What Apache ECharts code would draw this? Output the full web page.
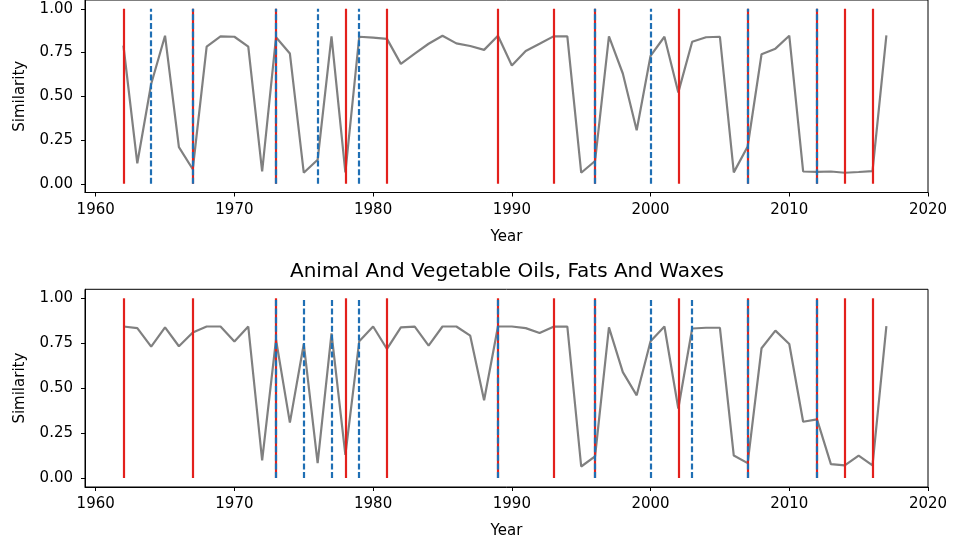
<!DOCTYPE html>
<html>
<head>
<meta charset="utf-8">
<script src="https://cdn.jsdelivr.net/npm/echarts@6/dist/echarts.min.js"></script>
<style>html,body{margin:0;padding:0;background:#fff}#c{width:960px;height:540px}</style>
</head>
<body>
<div id="c"></div>
<script>
const years = [1962,1963,1964,1965,1966,1967,1968,1969,1970,1971,1972,1973,1974,1975,1976,1977,1978,1979,1980,1981,1982,1983,1984,1985,1986,1987,1988,1989,1990,1991,1992,1993,1994,1995,1996,1997,1998,1999,2000,2001,2002,2003,2004,2005,2006,2007,2008,2009,2010,2011,2012,2013,2014,2015,2016,2017];

const topValues = [0.79,0.117,0.57,0.846,0.209,0.083,0.783,0.842,0.84,0.783,0.07,0.837,0.744,0.063,0.137,0.842,0.065,0.84,0.835,0.828,0.685,0.744,0.80,0.846,0.802,0.787,0.765,0.846,0.676,0.759,0.80,0.842,0.842,0.063,0.13,0.842,0.63,0.306,0.731,0.84,0.522,0.811,0.837,0.84,0.065,0.213,0.74,0.772,0.846,0.07,0.068,0.07,0.063,0.067,0.072,0.848];

const bottomValues = [0.843,0.834,0.731,0.838,0.733,0.81,0.843,0.843,0.759,0.843,0.098,0.77,0.308,0.746,0.083,0.805,0.129,0.761,0.843,0.718,0.838,0.842,0.737,0.843,0.843,0.792,0.433,0.843,0.843,0.834,0.807,0.842,0.843,0.064,0.12,0.838,0.589,0.46,0.761,0.843,0.387,0.832,0.836,0.836,0.125,0.083,0.722,0.82,0.746,0.313,0.326,0.077,0.07,0.125,0.07,0.845];

const trueChangeYears = [1962,1967,1973,1978,1981,1989,1993,1996,2002,2007,2012,2014,2016];
const topDetectedYears = [1964,1967,1973,1976,1979,1996,2000,2007,2012];
const bottomDetectedYears = [1973,1975,1977,1979,1989,1996,2000,2003,2007,2012];

const xTicks = [1960,1970,1980,1990,2000,2010,2020];
const yTicks = [0,0.25,0.5,0.75,1.0];
const bottomTitle = 'Animal And Vegetable Oils, Fats And Waxes';

const FONT = 'DejaVu Sans';
const chart = echarts.init(document.getElementById('c'));

function vlineData(list){
  return list.map(y => [{coord:[y,0]},{coord:[y,1]}]);
}

const grids = [
  {left:85, right:32, top:-6, height:198.5},
  {left:85, right:32, top:289.3, height:200}
];

function xAxis(i){
  return {
    type:'value', gridIndex:i, min:1959.23, max:2020,
    name:'Year', nameLocation:'middle', nameGap:37,
    nameTextStyle:{fontFamily:FONT, fontSize:15, color:'#000'},
    axisLine:{show:true, onZero:false, lineStyle:{color:'#000', width:1}},
    axisTick:{show:true, length:4, lineStyle:{color:'#000', width:1}, customValues:xTicks},
    axisLabel:{fontFamily:FONT, fontSize:15, color:'#000', margin:10, customValues:xTicks, formatter:v=>String(v)},
    splitLine:{show:false}
  };
}
function yAxis(i){
  return {
    type:'value', gridIndex:i, min:-0.05, max:1.05,
    name:'Similarity', nameLocation:'middle', nameGap:57,
    nameTextStyle:{fontFamily:FONT, fontSize:15, color:'#000'},
    axisLine:{show:true, onZero:false, lineStyle:{color:'#000', width:1}},
    axisTick:{show:true, length:4, lineStyle:{color:'#000', width:1}, customValues:yTicks},
    axisLabel:{fontFamily:FONT, fontSize:15, color:'#000', margin:12, customValues:yTicks, formatter:v=>v.toFixed(2)},
    splitLine:{show:false}
  };
}

function seriesFor(i, vals, detected){
  return [
    {type:'line', xAxisIndex:i, yAxisIndex:i, data:years.map((y,k)=>[y,vals[k]]),
     showSymbol:false, symbol:'none', lineStyle:{color:'#808080', width:2.2}, z:2, animation:false},
    {type:'line', xAxisIndex:i, yAxisIndex:i, data:[], z:3, animation:false,
     markLine:{silent:true, symbol:['none','none'], label:{show:false}, animation:false,
       lineStyle:{color:'#e3201c', width:2.2, type:'solid'}, data:vlineData(trueChangeYears)}},
    {type:'line', xAxisIndex:i, yAxisIndex:i, data:[], z:4, animation:false,
     markLine:{silent:true, symbol:['none','none'], label:{show:false}, animation:false,
       lineStyle:{color:'#1f6fb4', width:2.2, type:[6,2.6]}, data:vlineData(detected)}}
  ];
}

chart.setOption({
  animation:false,
  backgroundColor:'#fff',
  grid: grids.map(g=>Object.assign({show:true, borderColor:'#000', borderWidth:1, backgroundColor:'transparent'}, g)),
  xAxis:[xAxis(0), xAxis(1)],
  yAxis:[yAxis(0), yAxis(1)],
  graphic:[{type:'text', x:507, y:262, style:{text:bottomTitle, fontFamily:FONT, fontSize:20, fill:'#000', textAlign:'center', textVerticalAlign:'top'}}],
  series:[...seriesFor(0, topValues, topDetectedYears), ...seriesFor(1, bottomValues, bottomDetectedYears)]
});
</script>
</body>
</html>
